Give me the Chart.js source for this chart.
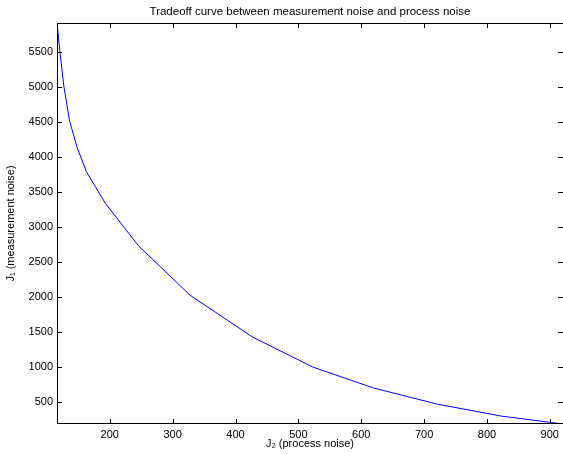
<!DOCTYPE html>
<html>
<head>
<meta charset="utf-8">
<script src="https://cdn.jsdelivr.net/npm/chart.js@4.4.0/dist/chart.umd.min.js"></script>
<style>
  html, body { margin: 0; padding: 0; background: #fff; }
  #wrap { width: 563px; height: 454px; }
</style>
</head>
<body>
<div id="wrap"><canvas id="tradeoff" width="563" height="454"></canvas></div>
<script>
// J2 (process noise) vs J1 (measurement noise) along the tradeoff curve
const processNoise = [116, 121, 127, 136, 148, 163, 193, 246, 328, 427, 523, 620, 721, 822, 921];
const measurementNoise = [5920, 5480, 5010, 4520, 4140, 3790, 3340, 2730, 2025, 1430, 1000, 700, 470, 300, 186];

const xTicks = [200, 300, 400, 500, 600, 700, 800, 900];
const yTicks = [500, 1000, 1500, 2000, 2500, 3000, 3500, 4000, 4500, 5000, 5500];

const titleText = 'Tradeoff curve between measurement noise and process noise';

const FONT = "'Liberation Sans', Arial, Helvetica, sans-serif";

// matlab style box with ticks pointing into the axes, title centred on the axes
const boxTicks = {
  id: 'boxTicks',
  afterDatasetsDraw(chart) {
    const { ctx, chartArea: a, scales: { x, y } } = chart;
    const len = 5;
    ctx.save();
    ctx.strokeStyle = '#000';
    ctx.lineWidth = 1;
    ctx.beginPath();
    x.ticks.forEach(t => {
      const px = Math.round(x.getPixelForValue(t.value)) + 0.5;
      ctx.moveTo(px, a.bottom); ctx.lineTo(px, a.bottom - len);
      ctx.moveTo(px, a.top); ctx.lineTo(px, a.top + len);
    });
    y.ticks.forEach(t => {
      const py = Math.round(y.getPixelForValue(t.value)) + 0.5;
      ctx.moveTo(a.left, py); ctx.lineTo(a.left + len, py);
      ctx.moveTo(a.right, py); ctx.lineTo(a.right - len, py);
    });
    ctx.stroke();
    ctx.strokeRect(a.left + 0.5, a.top + 0.5, a.right - a.left, a.bottom - a.top - 1);

    ctx.fillStyle = '#000';
    ctx.font = '11.5px ' + FONT;
    ctx.textAlign = 'center';
    ctx.textBaseline = 'middle';
    ctx.fillText(titleText, (a.left + a.right) / 2, 11.5);
    ctx.restore();
  }
};

new Chart(document.getElementById('tradeoff'), {
  type: 'line',
  data: {
    datasets: [{
      data: processNoise.map((v, i) => ({ x: v, y: measurementNoise[i] })),
      borderColor: '#0000ff',
      borderWidth: 1,
      pointRadius: 0,
      tension: 0,
      fill: false
    }]
  },
  options: {
    responsive: false,
    animation: false,
    devicePixelRatio: 1,
    layout: { padding: { top: 23, right: 0, bottom: 0, left: 0 } },
    plugins: {
      legend: { display: false },
      tooltip: { enabled: false },
      title: { display: false }
    },
    scales: {
      x: {
        type: 'linear',
        min: processNoise[0],
        max: processNoise[processNoise.length - 1],
        afterBuildTicks: s => { s.ticks = xTicks.map(v => ({ value: v })); },
        afterFit: s => { s.height = 30; },
        grid: { display: false, drawTicks: false },
        border: { display: false },
        ticks: {
          color: '#000',
          padding: 4,
          maxRotation: 0,
          autoSkip: false,
          font: { family: FONT, size: 11 },
          callback: v => String(v)
        },
        title: {
          display: true,
          text: 'J\u2082 (process noise)',
          color: '#000',
          font: { family: FONT, size: 11 },
          padding: { top: 0, bottom: 3 }
        }
      },
      y: {
        type: 'linear',
        min: Math.min(...measurementNoise),
        max: Math.max(...measurementNoise),
        afterBuildTicks: s => { s.ticks = yTicks.map(v => ({ value: v })); },
        afterFit: s => { s.width = 57; },
        grid: { display: false, drawTicks: false },
        border: { display: false },
        ticks: {
          color: '#000',
          padding: 4,
          autoSkip: false,
          font: { family: FONT, size: 11 },
          callback: v => String(v)
        },
        title: {
          display: true,
          text: 'J\u2081 (measurement noise)',
          color: '#000',
          font: { family: FONT, size: 11 },
          padding: { top: 4, bottom: 0 }
        }
      }
    }
  },
  plugins: [boxTicks]
});
</script>
</body>
</html>
